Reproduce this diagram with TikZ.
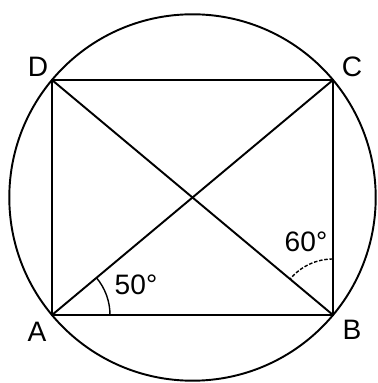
\documentclass[tikz,border=0pt]{standalone}
\usepackage{fontspec}
\setmainfont{Liberation Sans}
\usepackage{tikz}
\usetikzlibrary{calc}

\tikzset{
  edge/.style={line width=1.1pt, black},
  lbl/.style={inner sep=0pt, font=\fontsize{16}{19}\selectfont}
}

\begin{document}
\begin{tikzpicture}
    \useasboundingbox (0,0) rectangle (7.54,7.66);

    % corners
    \coordinate (A) at (1.04,1.36);
    \coordinate (B) at (6.66,1.36);
    \coordinate (C) at (6.66,6.06);
    \coordinate (D) at (1.04,6.06);
    \coordinate (O) at ($(A)!0.5!(C)$);

    % circle through the corners
    \draw[edge] (O) circle (3.664);

    % rectangle and diagonals
    \draw[edge] (A) -- (B) -- (C) -- (D) -- cycle;
    \draw[edge] (A) -- (C);
    \draw[edge] (B) -- (D);

    % angle at A
    \draw[line width=0.8pt] ($(A)+(1.16,0)$) arc (0:39.9:1.16);
    \node[lbl] (a50) at (2.72,1.96) {50°};

    % angle at B
    \draw[line width=0.8pt, dash pattern=on 2pt off 1pt] ($(B)+(0,1.12)$) arc (90:140.1:1.12);
    \node[lbl] (a60) at (6.12,2.82) {60°};

    % vertex labels
    \node[lbl] (lA) at (0.74,1.02) {A};
    \node[lbl] (lB) at (7.04,1.06) {B};
    \node[lbl] (lC) at (7.04,6.32) {C};
    \node[lbl] (lD) at (0.76,6.32) {D};
  \end{tikzpicture}
\end{document}
